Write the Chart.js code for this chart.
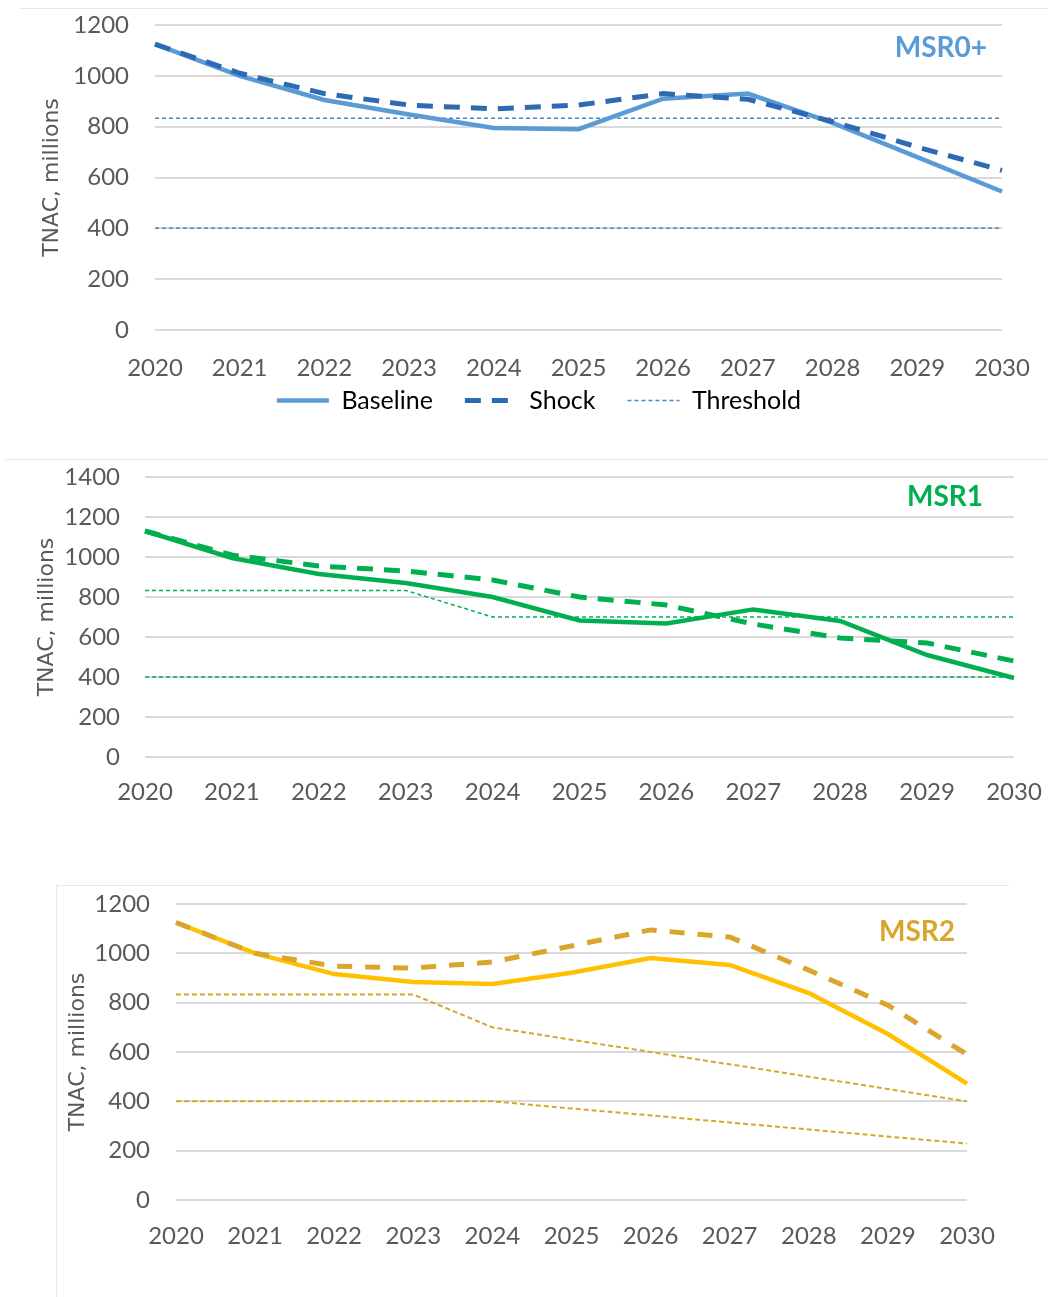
<!DOCTYPE html>
<html>
<head>
<meta charset="utf-8">
<script src="https://cdn.jsdelivr.net/npm/chart.js@4.4.1/dist/chart.umd.min.js"></script>
<style>
  html, body { margin: 0; padding: 0; background: #fff; }
  body { width: 1048px; height: 1297px; position: relative; overflow: hidden; }
  .box { position: absolute; }
  .rule { position: absolute; height: 0; border-top: 1px solid #e6e6e6; }
  #frame3 { position: absolute; left: 56px; top: 885px; width: 952px; height: 420px;
            border-top: 1px solid #e8e8e8; border-left: 1px solid #e8e8e8; }
</style>
</head>
<body>
<div class="rule" style="left:20px; top:8px; width:1028px;"></div>
<div class="rule" style="left:5px; top:459px; width:1043px;"></div>
<div id="frame3"></div>

<div class="box" style="left:0; top:9px; width:1048px; height:450px;"><canvas id="msr0"></canvas></div>
<div class="box" style="left:0; top:460px; width:1048px; height:420px;"><canvas id="msr1"></canvas></div>
<div class="box" style="left:0; top:886px; width:1048px; height:411px;"><canvas id="msr2"></canvas></div>

<script>
// years on the x axis
const years = ['2020', '2021', '2022', '2023', '2024', '2025', '2026', '2027', '2028', '2029', '2030'];

// MSR0+
const msr0Baseline = [1125, 1000, 905, 848, 795, 790, 910, 930, 815, 680, 545];
const msr0Shock    = [1125, 1010, 930, 885, 870, 885, 930, 908, 820, 720, 628];
const msr0Upper    = [833, 833, 833, 833, 833, 833, 833, 833, 833, 833, 833];
const msr0Lower    = [400, 400, 400, 400, 400, 400, 400, 400, 400, 400, 400];

// MSR1
const msr1Baseline = [1130, 995, 915, 870, 800, 683, 668, 738, 680, 510, 395];
const msr1Shock    = [1130, 1010, 955, 930, 885, 800, 760, 665, 595, 570, 480];
const msr1Upper    = [833, 833, 833, 833, 700, 700, 700, 700, 700, 700, 700];
const msr1Lower    = [400, 400, 400, 400, 400, 400, 400, 400, 400, 400, 400];

// MSR2
const msr2Baseline = [1125, 1000, 916, 884, 876, 921, 981, 953, 839, 673, 472];
const msr2Shock    = [1125, 1000, 948, 940, 965, 1030, 1095, 1066, 932, 790, 590];
const msr2Upper    = [833, 833, 833, 833, 700, 650, 600, 550, 500, 450, 400];
const msr2Lower    = [400, 400, 400, 400, 400, 371, 343, 314, 286, 257, 229];

Chart.defaults.font.family = 'Lato, "Noto Sans", sans-serif';
Chart.defaults.font.size = 24;
Chart.defaults.color = '#595959';
Chart.defaults.animation = false;

// bold series name in the top right corner of the plot
const cornerTitle = {
  id: 'cornerTitle',
  afterDatasetsDraw(chart, args, opts) {
    const { ctx, chartArea } = chart;
    ctx.save();
    ctx.font = 'bold 28px Lato, sans-serif';
    ctx.fillStyle = opts.color;
    ctx.textAlign = 'right';
    ctx.textBaseline = 'middle';
    ctx.fillText(opts.text, chartArea.right - opts.dx, chartArea.top + opts.dy);
    ctx.restore();
  }
};

// nudge the legend box (only the top moves up, so the clip box grows)
const legendShift = {
  id: 'legendShift',
  afterLayout(chart, args, opts) {
    const lg = chart.legend;
    if (!lg || !lg.options.display) return;
    lg.left += opts.dx; lg.right += opts.dx;
    lg.top += opts.dy;
  }
};

function makeChart(id, o) {
  const datasets = [
    { label: 'Baseline', data: o.baseline, borderColor: o.baseColor, borderWidth: 4.5, order: 1 },
    { label: 'Shock', data: o.shock, borderColor: o.shockColor, borderWidth: 5,
      borderDash: o.shockDash, order: 0 },
    { label: 'Threshold', data: o.upper, borderColor: o.thrColor, borderWidth: o.thrWidth,
      borderDash: o.thrDash, order: 2 },
    { label: 'Threshold low', data: o.lower, borderColor: o.thrColor, borderWidth: o.thrWidth,
      borderDash: o.thrDash, order: 2 }
  ];
  datasets.forEach(d => { d.pointRadius = 0; d.fill = false; d.tension = 0; });

  return new Chart(document.getElementById(id), {
    type: 'line',
    data: { labels: years, datasets: datasets },
    plugins: [cornerTitle, legendShift],
    options: {
      responsive: true,
      maintainAspectRatio: false,
      layout: { padding: o.pad },
      scales: {
        x: {
          offset: false,
          grid: { display: false, drawTicks: false },
          border: { display: false },
          ticks: { padding: o.xPad, maxRotation: 0, autoSkip: false },
          afterFit: (s) => { s.height = o.xHeight; s.paddingLeft = 0; s.paddingRight = 0; }
        },
        y: {
          min: 0, max: o.yMax,
          grid: { color: '#d9d9d9', lineWidth: 2, drawTicks: false },
          border: { display: false },
          ticks: { stepSize: 200, padding: o.yPad, callback: (v) => String(v) },
          title: { display: true, text: 'TNAC, millions', color: '#595959',
                   font: { family: '"DejaVu Sans", sans-serif', size: 22 },
                   padding: { top: o.titlePad, bottom: 0 } },
          afterFit: (s) => { s.width = o.yWidth; s.paddingTop = 0; s.paddingBottom = 0; }
        }
      },
      plugins: {
        tooltip: { enabled: false },
        cornerTitle: o.corner,
        legendShift: { dx: 38, dy: -24 },
        legend: {
          display: o.legend,
          position: 'bottom',
          labels: {
            usePointStyle: true,
            pointStyleWidth: 52,
            padding: 32,
            color: '#595959',
            font: { size: 25 },
            generateLabels: (chart) => {
              const ds = chart.data.datasets;
              return [0, 1, 2].map(i => ({
                text: ds[i].label,
                strokeStyle: ds[i].borderColor,
                fillStyle: ds[i].borderColor,
                lineWidth: ds[i].borderWidth,
                lineDash: ds[i].borderDash || [],
                pointStyle: 'line',
                hidden: false,
                datasetIndex: i
              }));
            }
          }
        }
      }
    }
  });
}

makeChart('msr0', {
  baseline: msr0Baseline, shock: msr0Shock, upper: msr0Upper, lower: msr0Lower,
  baseColor: '#5b9bd5', shockColor: '#2e6ab4', thrColor: '#4a86d0',
  shockDash: [16, 11], thrDash: [4, 3], thrWidth: 1.5,
  yMax: 1200, yWidth: 155, yPad: 26, titlePad: 39, xPad: 24, xHeight: 50,
  pad: { top: 16, right: 46, bottom: 12, left: 0 },
  legend: true,
  corner: { text: 'MSR0+', color: '#5b9bd5', dx: 15, dy: 23 }
});

makeChart('msr1', {
  baseline: msr1Baseline, shock: msr1Shock, upper: msr1Upper, lower: msr1Lower,
  baseColor: '#00b050', shockColor: '#00b050', thrColor: '#00b050',
  shockDash: [16, 11], thrDash: [4, 3], thrWidth: 1.5,
  yMax: 1400, yWidth: 145, yPad: 25, titlePad: 34, xPad: 21, xHeight: 60,
  pad: { top: 17, right: 34, bottom: 63, left: 0 },
  legend: false,
  corner: { text: 'MSR1', color: '#00b050', dx: 31, dy: 20 }
});

makeChart('msr2', {
  baseline: msr2Baseline, shock: msr2Shock, upper: msr2Upper, lower: msr2Lower,
  baseColor: '#ffc000', shockColor: '#d9a52a', thrColor: '#d9a52a',
  shockDash: [15, 13], thrDash: [5, 3], thrWidth: 2,
  yMax: 1200, yWidth: 176, yPad: 26, titlePad: 65, xPad: 22, xHeight: 60,
  pad: { top: 18, right: 81, bottom: 37, left: 0 },
  legend: false,
  corner: { text: 'MSR2', color: '#d9a52a', dx: 12, dy: 28 }
});
</script>
</body>
</html>
